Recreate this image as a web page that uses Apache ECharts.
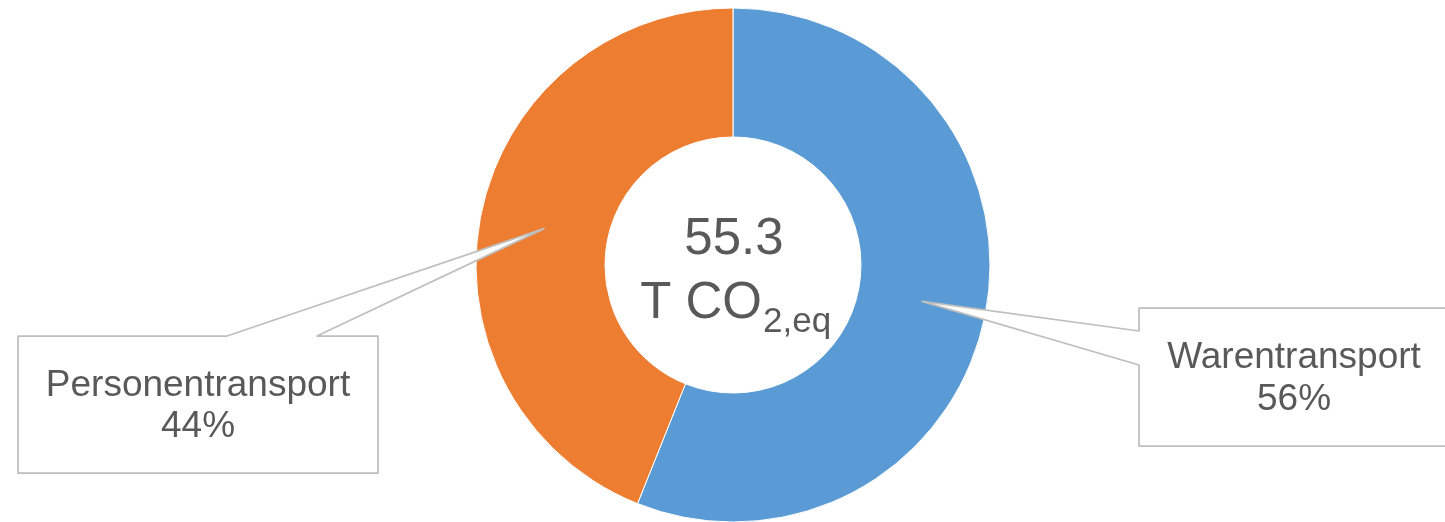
<!DOCTYPE html>
<html><head><meta charset="utf-8">
<script src="https://cdn.jsdelivr.net/npm/echarts@6/dist/echarts.min.js"></script>
<style>html,body{margin:0;padding:0;background:#fff}#c{width:1445px;height:522px}</style>
</head><body><div id="c"></div>
<script>
// ---- data ----
const categories = ['Warentransport', 'Personentransport'];
const values = [31.0, 24.3];
const colors = ['#5B9BD5', '#ED7D31'];
const unitMain = 'T CO';
const unitSub = '2,eq';

// ---- layout / style ----
const FONT = '"Liberation Sans", Arial, Helvetica, sans-serif';
const TEXT = '#595959';
const BORDER = '#BFBFBF';
const CX = 733, CY = 265, R0 = 128, R = 257;
const MID = 0.31; // canvas 'middle' offset above baseline (in em)

// callout boxes: rect [x0,y0,x1,y1], attach points, text centre x and line baselines
const callouts = [
  { box: [1139, 308, 1449, 446], side: 'left', attach: [331, 365], tx: 1294, ty: [369, 411] },
  { box: [18, 336, 378, 473], side: 'top', attach: [227, 317], tx: 198, ty: [397, 438] }
];

const chart = echarts.init(document.getElementById('c'), null, { renderer: 'canvas' });
const total = values.reduce((a, b) => a + b, 0);

chart.setOption({
  animation: false,
  backgroundColor: '#fff',
  series: [{
    type: 'pie',
    center: [CX, CY],
    radius: [R0, R],
    startAngle: 90,
    clockwise: true,
    silent: true,
    label: { show: false },
    labelLine: { show: false },
    itemStyle: { borderColor: '#fff', borderWidth: 1 },
    data: categories.map((c, i) => ({ name: c, value: values[i], itemStyle: { color: colors[i] } }))
  }]
});

function tipFor(i) {
  let lay = null;
  try { lay = chart.getModel().getSeriesByIndex(0).getData().getItemLayout(i); } catch (e) {}
  if (lay && lay.cx != null) {
    const a = (lay.startAngle + lay.endAngle) / 2;
    const r = (lay.r + lay.r0) / 2;
    return [lay.cx + r * Math.cos(a), lay.cy + r * Math.sin(a)];
  }
  let cum = 0;
  for (let k = 0; k < i; k++) cum += values[k];
  const a = -Math.PI / 2 + 2 * Math.PI * (cum + values[i] / 2) / total;
  const r = (R + R0) / 2;
  return [CX + r * Math.cos(a), CY + r * Math.sin(a)];
}

function txt(text, x, baseline, size, align) {
  return {
    type: 'text', z: 20, silent: true,
    style: {
      text: text, x: x, y: baseline - size * MID,
      fontSize: size, fontFamily: FONT, fill: TEXT,
      align: align, textAlign: align, verticalAlign: 'middle', textVerticalAlign: 'middle'
    }
  };
}

const els = [];
callouts.forEach((c, i) => {
  const [x0, y0, x1, y1] = c.box;
  const tip = tipFor(i);
  let pts;
  if (c.side === 'left') {
    pts = [[x0, y0], [x1, y0], [x1, y1], [x0, y1], [x0, c.attach[1]], tip, [x0, c.attach[0]]];
  } else {
    pts = [[x0, y0], [c.attach[0], y0], tip, [c.attach[1], y0], [x1, y0], [x1, y1], [x0, y1]];
  }
  els.push({
    type: 'polygon', z: 10, silent: true,
    shape: { points: pts },
    style: { fill: '#fff', stroke: BORDER, lineWidth: 1.75, lineJoin: 'round' }
  });
  const pct = Math.round(values[i] / total * 100) + '%';
  els.push(txt(categories[i], c.tx, c.ty[0], 37, 'center'));
  els.push(txt(pct, c.tx, c.ty[1], 37, 'center'));
});

// centre total
els.push(txt(total.toFixed(1), CX + 1, 256, 51, 'center'));
els.push(txt(unitMain, CX + 29, 320, 51, 'right'));
els.push(txt(unitSub, CX + 30, 333, 35, 'left'));

chart.setOption({ graphic: { elements: els } });
</script>
</body></html>
